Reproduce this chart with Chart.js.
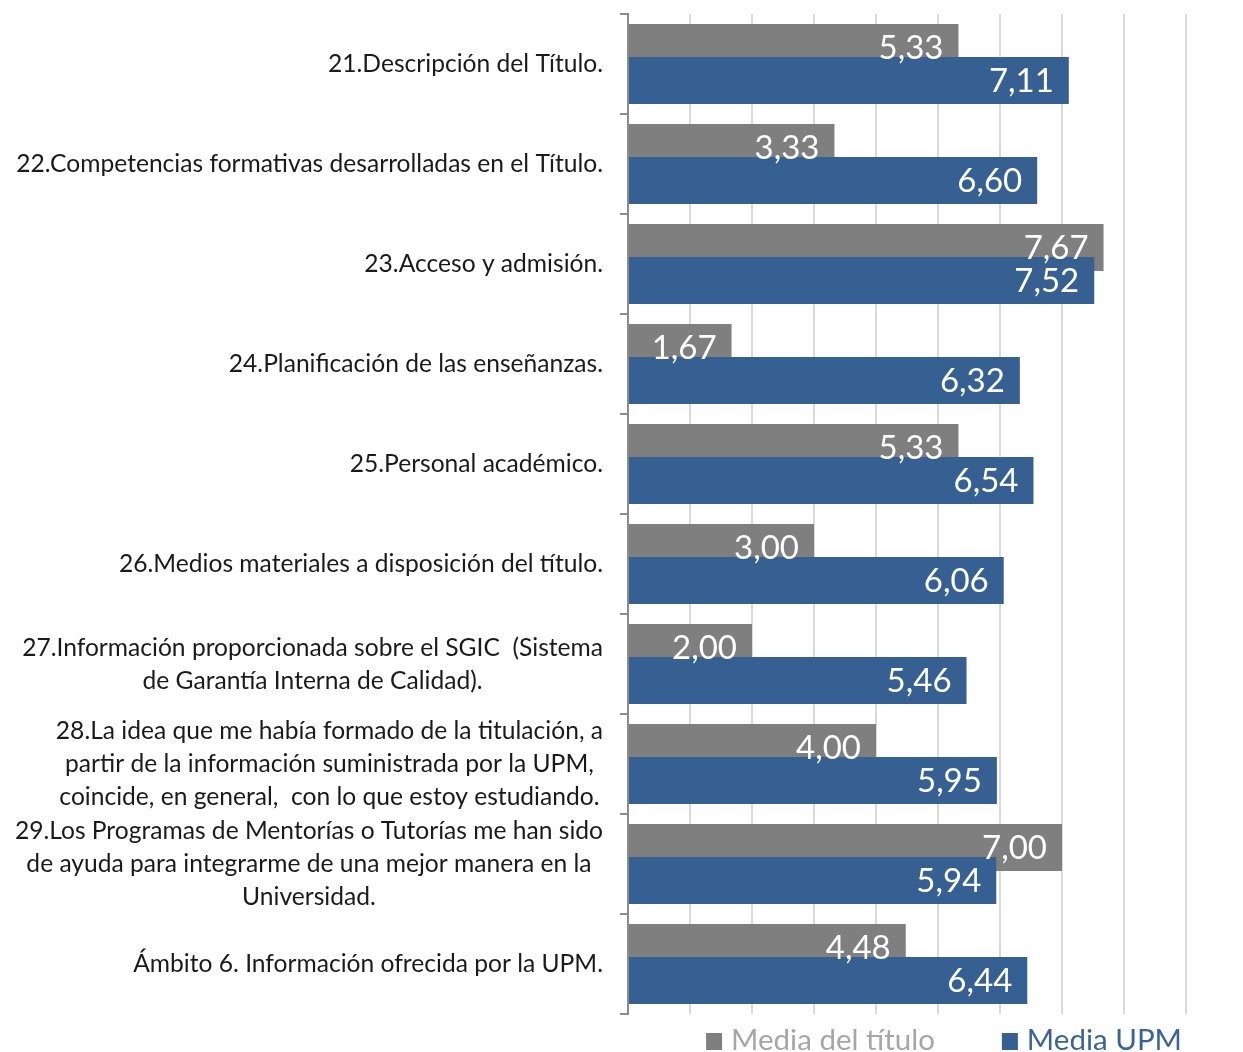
<!DOCTYPE html>
<html>
<head>
<meta charset="utf-8">
<script src="https://cdn.jsdelivr.net/npm/chart.js@4/dist/chart.umd.min.js"></script>
<style>
  html, body { margin: 0; padding: 0; background: #ffffff; }
  #c { display: block; }
</style>
</head>
<body>
<canvas id="c" width="1243" height="1052"></canvas>
<script>
// ---------- DATA ----------
const categories = [
  ["21.Descripción del Título."],
  ["22.Competencias formativas desarrolladas en el Título."],
  ["23.Acceso y admisión."],
  ["24.Planificación de las enseñanzas."],
  ["25.Personal académico."],
  ["26.Medios materiales a disposición del título."],
  ["27.Información proporcionada sobre el SGIC  (Sistema", "de Garantía Interna de Calidad)."],
  ["28.La idea que me había formado de la titulación, a", "partir de la información suministrada por la UPM,", "coincide, en general,  con lo que estoy estudiando."],
  ["29.Los Programas de Mentorías o Tutorías me han sido", "de ayuda para integrarme de una mejor manera en la", "Universidad."],
  ["Ámbito 6. Información ofrecida por la UPM."]
];
const seriesNames = ["Media del título", "Media UPM"];
const mediaTitulo = [5.33, 3.33, 7.67, 1.67, 5.33, 3.00, 2.00, 4.00, 7.00, 4.48];
const mediaUPM    = [7.11, 6.60, 7.52, 6.32, 6.54, 6.06, 5.46, 5.95, 5.94, 6.44];
const axisMin = 0;
const axisMax = 9;
const axisStep = 1;

// ---------- STYLE ----------
const GRAY = '#7f7f7f';
const BLUE = '#376092';
const LEGEND_TEXT = ['#a6a6a6', '#3a6499'];
const FONT = 'Lato, "Open Sans", "DejaVu Sans", sans-serif';

const fmt = v => v.toFixed(2).replace('.', ',');

// Draw the grey series first so the blue series sits on top of it
const drawOrderPlugin = {
  id: 'drawOrder',
  beforeDatasetsDraw(chart) {
    const meta = chart.getDatasetMeta(0);
    if (meta && !meta.hidden) meta.controller.draw();
  },
  beforeDatasetDraw(chart, args) {
    if (args.index === 0) return false;
  }
};

// Value labels inside bar ends
const valueLabelPlugin = {
  id: 'valueLabels',
  afterDatasetsDraw(chart) {
    const ctx = chart.ctx;
    ctx.save();
    ctx.font = '33px ' + FONT;
    ctx.fillStyle = '#ffffff';
    ctx.textAlign = 'right';
    ctx.textBaseline = 'alphabetic';
    chart.data.datasets.forEach((ds, di) => {
      const meta = chart.getDatasetMeta(di);
      meta.data.forEach((el, i) => {
        ctx.fillText(fmt(ds.data[i]), el.x - 15, el.y + 11.5);
      });
    });
    ctx.restore();
  }
};

// Category labels: block right-aligned, lines centred within block
const categoryLabelPlugin = {
  id: 'categoryLabels',
  afterDraw(chart) {
    const ctx = chart.ctx;
    const yScale = chart.scales.y;
    const right = chart.chartArea.left - 25;
    const lineH = 33;
    ctx.save();
    ctx.font = '24.6px ' + FONT;
    ctx.fillStyle = '#1a1a1a';
    ctx.textAlign = 'center';
    ctx.textBaseline = 'alphabetic';
    chart.data.labels.forEach((lines, i) => {
      const cy = yScale.getPixelForValue(i);
      const w = Math.max(...lines.map(l => ctx.measureText(l).width));
      const cx = right - w / 2;
      const n = lines.length;
      lines.forEach((l, k) => {
        ctx.fillText(l, cx, cy + 8 + (k - (n - 1) / 2) * lineH);
      });
    });
    ctx.restore();
  }
};

// Legend at the bottom right
const legendPlugin = {
  id: 'customLegend',
  afterDraw(chart) {
    const ctx = chart.ctx;
    const ca = chart.chartArea;
    ctx.save();
    ctx.font = '29.5px ' + FONT;
    ctx.textBaseline = 'alphabetic';
    ctx.textAlign = 'left';
    const box = 16, boxGap = 9, itemGap = 67;
    const ds = chart.data.datasets;
    const widths = ds.map(d => box + boxGap + ctx.measureText(d.label).width);
    const total = widths.reduce((a, b) => a + b, 0) + itemGap * (ds.length - 1);
    let x = ca.right - 4 - total;
    const baseY = ca.bottom + 36;
    ds.forEach((d, i) => {
      ctx.fillStyle = d.backgroundColor;
      ctx.fillRect(x, baseY - 17, box, 17);
      ctx.fillStyle = LEGEND_TEXT[i];
      ctx.fillText(d.label, x + box + boxGap, baseY);
      x += widths[i] + itemGap;
    });
    ctx.restore();
  }
};

new Chart(document.getElementById('c'), {
  type: 'bar',
  data: {
    labels: categories,
    datasets: [
      { label: seriesNames[0], data: mediaTitulo, backgroundColor: GRAY, borderWidth: 0 },
      { label: seriesNames[1], data: mediaUPM, backgroundColor: BLUE, borderWidth: 0 }
    ]
  },
  options: {
    indexAxis: 'y',
    responsive: false,
    animation: false,
    events: [],
    categoryPercentage: 0.66,
    barPercentage: 1.4242,
    layout: { padding: { top: 14, bottom: 38, left: 0, right: 57 } },
    plugins: {
      legend: { display: false },
      tooltip: { enabled: false },
      title: { display: false }
    },
    scales: {
      x: {
        min: axisMin,
        max: axisMax,
        ticks: { display: false, stepSize: axisStep },
        grid: { color: '#d9d9d9', lineWidth: 2, drawTicks: false },
        border: { display: false },
        afterFit(scale) { scale.height = 0; }
      },
      y: {
        ticks: { display: false },
        grid: {
          drawOnChartArea: false,
          drawTicks: true,
          tickLength: 8,
          color: '#8c8c8c',
          lineWidth: 2
        },
        border: { display: true, color: '#8c8c8c', width: 2 },
        afterFit(scale) { scale.width = 628; }
      }
    }
  },
  plugins: [drawOrderPlugin, valueLabelPlugin, categoryLabelPlugin, legendPlugin]
});
</script>
</body>
</html>
